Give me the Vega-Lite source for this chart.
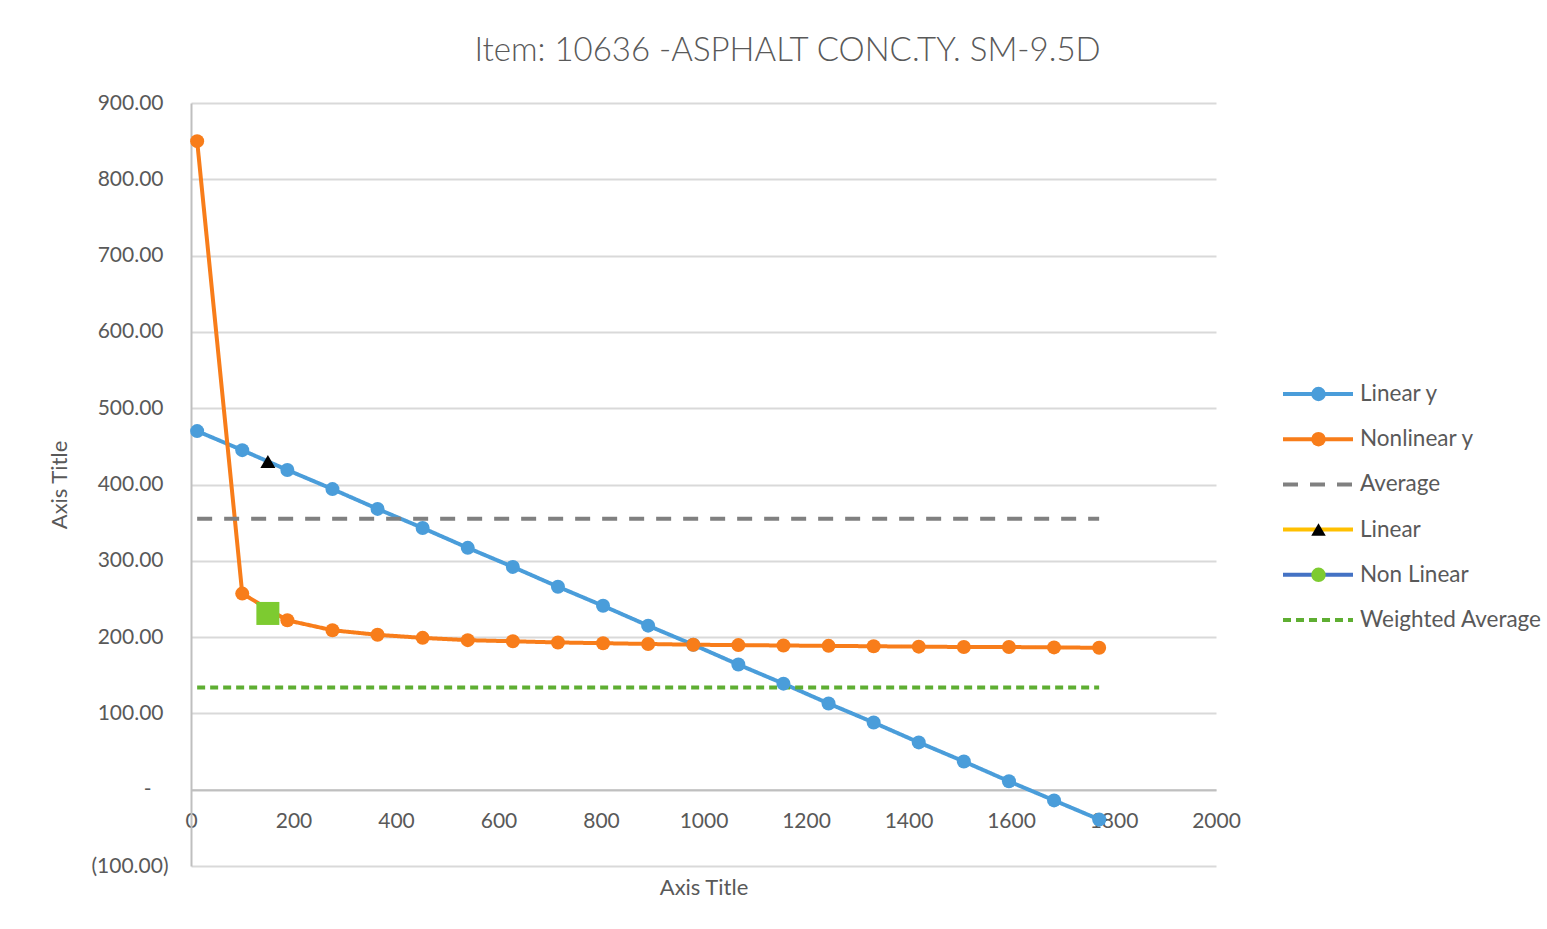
{
  "$schema": "https://vega.github.io/schema/vega-lite/v6.json",
  "width": 1025,
  "height": 763,
  "autosize": {"type": "none"},
  "padding": {"left": 191, "top": 103, "right": 331, "bottom": 63},
  "background": "white",
  "config": {"view": {"stroke": null}, "font": "Lato"},
  "title": {
    "text": "Item: 10636 -ASPHALT CONC.TY. SM-9.5D",
    "font": "Lato",
    "fontSize": 33,
    "fontWeight": 300,
    "color": "#595959",
    "anchor": "middle",
    "dx": 84,
    "baseline": "alphabetic",
    "offset": -2
  },
  "data": {
    "values": [
      {"series": "Linear y", "x": 12, "y": 470},
      {"series": "Linear y", "x": 100, "y": 445},
      {"series": "Linear y", "x": 188, "y": 419},
      {"series": "Linear y", "x": 276, "y": 394},
      {"series": "Linear y", "x": 364, "y": 368},
      {"series": "Linear y", "x": 452, "y": 343},
      {"series": "Linear y", "x": 540, "y": 317},
      {"series": "Linear y", "x": 628, "y": 292},
      {"series": "Linear y", "x": 716, "y": 266},
      {"series": "Linear y", "x": 804, "y": 241},
      {"series": "Linear y", "x": 892, "y": 215},
      {"series": "Linear y", "x": 980, "y": 190},
      {"series": "Linear y", "x": 1068, "y": 164},
      {"series": "Linear y", "x": 1156, "y": 139},
      {"series": "Linear y", "x": 1244, "y": 113},
      {"series": "Linear y", "x": 1332, "y": 88},
      {"series": "Linear y", "x": 1420, "y": 62},
      {"series": "Linear y", "x": 1508, "y": 37},
      {"series": "Linear y", "x": 1596, "y": 11},
      {"series": "Linear y", "x": 1684, "y": -14},
      {"series": "Linear y", "x": 1772, "y": -39},
      {"series": "Nonlinear y", "x": 12, "y": 850},
      {"series": "Nonlinear y", "x": 100, "y": 257},
      {"series": "Nonlinear y", "x": 188, "y": 222},
      {"series": "Nonlinear y", "x": 276, "y": 209},
      {"series": "Nonlinear y", "x": 364, "y": 203},
      {"series": "Nonlinear y", "x": 452, "y": 199},
      {"series": "Nonlinear y", "x": 540, "y": 196},
      {"series": "Nonlinear y", "x": 628, "y": 194.5},
      {"series": "Nonlinear y", "x": 716, "y": 193},
      {"series": "Nonlinear y", "x": 804, "y": 192},
      {"series": "Nonlinear y", "x": 892, "y": 191},
      {"series": "Nonlinear y", "x": 980, "y": 190},
      {"series": "Nonlinear y", "x": 1068, "y": 189.5},
      {"series": "Nonlinear y", "x": 1156, "y": 189},
      {"series": "Nonlinear y", "x": 1244, "y": 188.5},
      {"series": "Nonlinear y", "x": 1332, "y": 188},
      {"series": "Nonlinear y", "x": 1420, "y": 187.5},
      {"series": "Nonlinear y", "x": 1508, "y": 187},
      {"series": "Nonlinear y", "x": 1596, "y": 187},
      {"series": "Nonlinear y", "x": 1684, "y": 186.5},
      {"series": "Nonlinear y", "x": 1772, "y": 186},
      {"series": "Average", "x": 12, "y": 355},
      {"series": "Average", "x": 1772, "y": 355},
      {"series": "Linear", "x": 150, "y": 430},
      {"series": "Non Linear", "x": 150, "y": 231},
      {"series": "Weighted Average", "x": 12, "y": 134},
      {"series": "Weighted Average", "x": 1772, "y": 134}
    ]
  },
  "encoding": {
    "x": {
      "field": "x",
      "type": "quantitative",
      "scale": {"domain": [0, 2000], "nice": false, "zero": false},
      "axis": {
        "orient": "bottom",
        "offset": -76.3,
        "values": [0, 200, 400, 600, 800, 1000, 1200, 1400, 1600, 1800, 2000],
        "format": "d",
        "grid": false,
        "ticks": false,
        "domain": true,
        "domainColor": "#BFBFBF",
        "domainWidth": 2,
        "labelFont": "Lato",
        "labelFontSize": 21,
        "labelColor": "#595959",
        "labelPadding": 21,
        "labelFlush": false,
        "labelOverlap": false,
        "title": "Axis Title",
        "titleFont": "Lato",
        "titleFontSize": 22,
        "titleFontWeight": "normal",
        "titleColor": "#595959",
        "titleX": 512.5,
        "titleY": 98,
        "titleAlign": "center",
        "titleBaseline": "middle"
      }
    },
    "y": {
      "field": "y",
      "type": "quantitative",
      "scale": {"domain": [-100, 900], "nice": false, "zero": false},
      "axis": {
        "values": [-100, 0, 100, 200, 300, 400, 500, 600, 700, 800, 900],
        "grid": true,
        "gridColor": "#D9D9D9",
        "gridWidth": 2,
        "domain": true,
        "domainColor": "#BFBFBF",
        "domainWidth": 2,
        "ticks": false,
        "labelFont": "Lato",
        "labelFontSize": 21,
        "labelColor": "#595959",
        "labelPadding": {
          "condition": [
            {"test": "datum.value < 0", "value": 23},
            {"test": "datum.value == 0", "value": 40}
          ],
          "value": 28
        },
        "labelOverlap": false,
        "labelExpr": "datum.value == 0 ? '-' : datum.value < 0 ? '(' + format(-datum.value, '.2f') + ')' : format(datum.value, '.2f')",
        "title": "Axis Title",
        "titleFont": "Lato",
        "titleFontSize": 22,
        "titleFontWeight": "normal",
        "titleColor": "#595959",
        "titleX": -132,
        "titleY": 381.5,
        "titleAngle": -90,
        "titleAlign": "center",
        "titleBaseline": "middle"
      }
    }
  },
  "layer": [
    {
      "mark": {"type": "line", "strokeWidth": 4},
      "encoding": {
        "color": {
          "field": "series",
          "type": "nominal",
          "scale": {
            "domain": ["Linear y", "Nonlinear y", "Average", "Linear", "Non Linear", "Weighted Average"],
            "range": ["#4A9DDA", "#F87D1A", "#808080", "#FFC000", "#4472C4", "#5EAE32"]
          },
          "legend": {
            "orient": "none",
            "legendX": 1090,
            "legendY": 279.5,
            "title": null,
            "symbolType": "stroke",
            "symbolSize": 4900,
            "symbolStrokeWidth": 4,
            "clipHeight": 23,
            "rowPadding": 22.2,
            "labelFont": "Lato",
            "labelFontSize": 22.5,
            "labelColor": "#595959",
            "labelOffset": 5,
            "labelLimit": 300,
            "padding": 0
          }
        },
        "strokeDash": {
          "field": "series",
          "type": "nominal",
          "scale": {
            "domain": ["Linear y", "Nonlinear y", "Average", "Linear", "Non Linear", "Weighted Average"],
            "range": [[1, 0], [1, 0], [15, 12], [1, 0], [1, 0], [8, 5]]
          }
        }
      }
    },
    {
      "mark": {"type": "point", "filled": true, "opacity": 1, "strokeWidth": 0},
      "encoding": {
        "fill": {
          "field": "series",
          "type": "nominal",
          "sort": ["Linear y", "Nonlinear y", "Average", "Linear", "Non Linear", "Weighted Average"],
          "scale": {
            "range": ["#4A9DDA", "#F87D1A", "transparent", "#000000", "#7DCB30", "transparent"]
          },
          "legend": {
            "orient": "none",
            "legendX": 1116.25,
            "legendY": 279.5,
            "title": null,
            "symbolType": {"expr": "datum.value === 'Linear' ? 'triangle-up' : 'circle'"},
            "symbolSize": 210,
            "symbolStrokeWidth": 0,
            "symbolOpacity": 1,
            "clipHeight": 23,
            "rowPadding": 22.2,
            "labelFont": "Lato",
            "labelFontSize": 22.5,
            "labelExpr": "''",
            "labelLimit": 300,
            "padding": 0
          }
        },
        "shape": {
          "field": "series",
          "type": "nominal",
          "scale": {
            "domain": ["Weighted Average", "Non Linear", "Linear", "Average", "Nonlinear y", "Linear y"],
            "range": ["circle", "square", "triangle-up", "circle", "circle", "circle"]
          },
          "legend": null
        },
        "size": {
          "field": "series",
          "type": "nominal",
          "scale": {
            "type": "ordinal",
            "domain": ["Weighted Average", "Non Linear", "Linear", "Average", "Nonlinear y", "Linear y"],
            "range": [0, 529, 225, 0, 196, 196]
          },
          "legend": null
        }
      }
    }
  ]
}
